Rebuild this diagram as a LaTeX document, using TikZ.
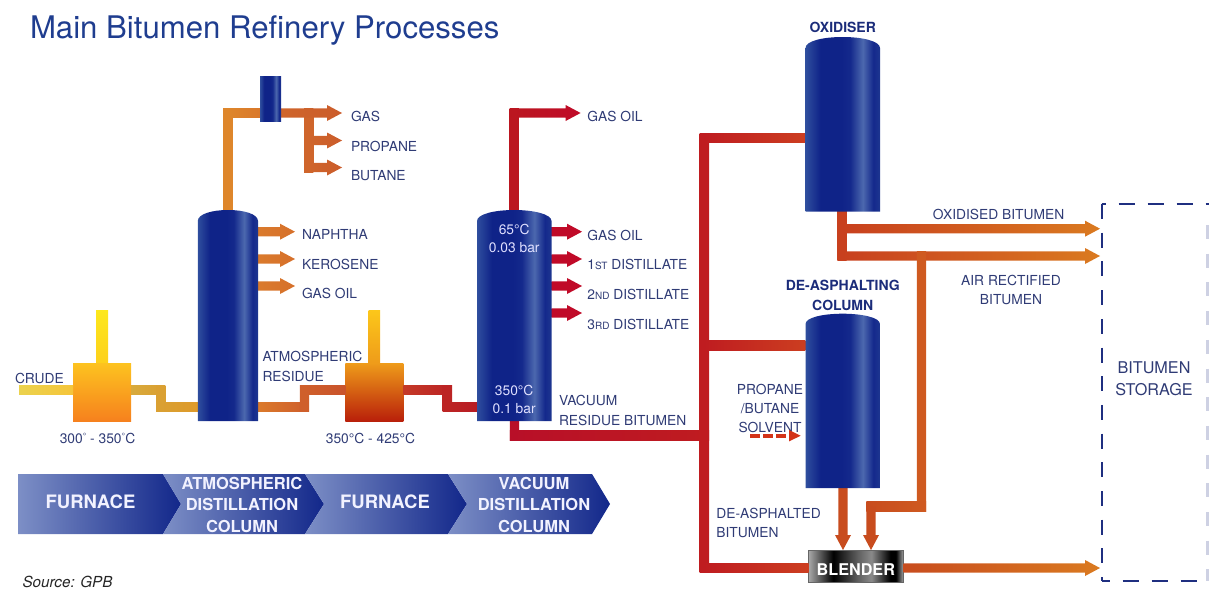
\documentclass[tikz,border=0pt]{standalone}
\usepackage{fontspec}
\setmainfont{TeX Gyre Heros}
\usetikzlibrary{calc,arrows.meta}
\definecolor{lab}{HTML}{2F3B75}
\definecolor{hdr}{HTML}{1B2C7A}
\definecolor{ttl}{HTML}{1F3D8F}
\definecolor{chevL}{HTML}{7D8FC6}
\definecolor{chevR}{HTML}{12278A}
\definecolor{stor}{HTML}{1F2F80}
\definecolor{vesA}{HTML}{2F4E9E}
\definecolor{vesB}{HTML}{0F2388}
\definecolor{vesC}{HTML}{14298C}
\definecolor{vesD}{HTML}{4C68AE}
\definecolor{vesE}{HTML}{1E3690}
\definecolor{blG}{HTML}{A8A8A8}
\definecolor{blM}{HTML}{606060}
\definecolor{blL}{HTML}{8A8A8A}
\definecolor{f1t}{HTML}{FDC21F}\definecolor{f1b}{HTML}{F6801E}
\definecolor{f2t}{HTML}{EE9A1A}\definecolor{f2b}{HTML}{B81E0A}
\definecolor{chA}{HTML}{FDE81C}\definecolor{chB}{HTML}{FDCF1B}
\definecolor{chC}{HTML}{FCC71A}\definecolor{chD}{HTML}{EE9A1A}
\definecolor{crA}{HTML}{EBD24E}\definecolor{crB}{HTML}{F5C53A}
\definecolor{ppA}{HTML}{D8AA3C}\definecolor{ppB}{HTML}{DAA032}\definecolor{ppC}{HTML}{DE9A2A}
\definecolor{ppD}{HTML}{DB7A2B}\definecolor{ppE}{HTML}{CF5F2B}\definecolor{ppF}{HTML}{C9532B}
\definecolor{ppG}{HTML}{C43A28}\definecolor{ppH}{HTML}{BC2424}\definecolor{ppI}{HTML}{B81C24}
\definecolor{taA}{HTML}{DE862B}\definecolor{taB}{HTML}{D9782B}\definecolor{taC}{HTML}{CF652B}\definecolor{taD}{HTML}{CB5C2B}
\definecolor{saA}{HTML}{DA7A2C}\definecolor{saB}{HTML}{D6702B}
\definecolor{rdA}{HTML}{BB1620}\definecolor{rdB}{HTML}{C00A28}\definecolor{rdC}{HTML}{B80F28}
\definecolor{mnA}{HTML}{BF1C20}\definecolor{mnB}{HTML}{CC3E20}
\definecolor{orA}{HTML}{C8401E}\definecolor{orB}{HTML}{DA7A20}\definecolor{orC}{HTML}{CF5A20}\definecolor{orD}{HTML}{C84C1E}
\pgfdeclarehorizontalshading{vessel}{100bp}{
 color(0bp)=(vesA); color(25bp)=(vesA); color(35bp)=(vesB); color(49bp)=(vesB);
 color(55bp)=(vesC); color(63.5bp)=(vesD); color(70.5bp)=(vesC); color(75bp)=(vesE); color(100bp)=(vesE)}
\pgfdeclarehorizontalshading{blendshade}{100bp}{
 color(0bp)=(blG); color(25bp)=(blG); color(38bp)=(black); color(51bp)=(blM);
 color(58bp)=(blL); color(68bp)=(black); color(71bp)=(black); color(75bp)=(blG); color(100bp)=(blG)}
\tikzset{
 every node/.style={inner sep=0pt,outer sep=0pt},
 lbl/.style={font=\fontsize{13.8}{19.5}\selectfont,text=lab,anchor=west,align=left},
 lblc/.style={font=\fontsize{13.8}{19.5}\selectfont,text=lab,align=center},
 hdrlbl/.style={font=\fontsize{14}{20.5}\bfseries\selectfont,text=hdr,align=center},
 inlbl/.style={font=\fontsize{13.8}{17.5}\selectfont,text=white!88!blue,align=center},
 chevtxt/.style={font=\fontsize{16.5}{21.5}\bfseries\selectfont,text=white!95!blue,align=center},
 chevbig/.style={font=\fontsize{18.5}{22}\bfseries\selectfont,text=white!95!blue,align=center},
 furn/.style={minimum width=58pt,minimum height=58pt},
 stdash/.style={draw=stor,line width=1.9pt,dash pattern=on 16pt off 13pt}
}
\newcommand\sm[1]{{\fontsize{10}{10}\selectfont #1}}
\newcommand\smdeg{\raisebox{3.6pt}{\fontsize{9}{9}\selectfont °}}
% horizontal pipe, left to right
\newcommand\pipeH[4]{\path[left color=#3,right color=#4] ($(#1)+(-4.7,-4.7)$) rectangle ($(#2)+(4.7,4.7)$);}
% horizontal pipe ending flush on a vessel
\newcommand\pipeHf[4]{\path[left color=#3,right color=#4] ($(#1)+(0,-4.7)$) rectangle ($(#2)+(0,4.7)$);}
% vertical pipe, top to bottom
\newcommand\pipeV[4]{\path[top color=#3,bottom color=#4] ($(#1)+(-4.7,-4.7)$) rectangle ($(#2)+(4.7,4.7)$);}
% horizontal arrow
\newcommand\flowR[4]{\path[left color=#3,right color=#4] ($(#1)+(0,-4.7)$) -- ($(#2)+(-15,-4.7)$) -- ($(#2)+(-15,-8)$) -- (#2) -- ($(#2)+(-15,8)$) -- ($(#2)+(-15,4.7)$) -- ($(#1)+(0,4.7)$) -- cycle;}
% downward arrow
\newcommand\flowD[3]{\fill[#3] ($(#1)+(-4.7,0)$) -- ($(#2)+(-4.7,-15)$) -- ($(#2)+(-8,-15)$) -- (#2) -- ($(#2)+(8,-15)$) -- ($(#2)+(4.7,-15)$) -- ($(#1)+(4.7,0)$) -- cycle;}
\begin{document}
\begin{tikzpicture}[x=1pt,y=-1pt]
\useasboundingbox (0,0) rectangle (1209,589);
\node[font=\fontsize{31.15}{34}\selectfont,text=ttl,anchor=west] (title) at (30,30) {Main Bitumen Refinery Processes};

% named positions
\coordinate (c1) at (160.7,390);
\coordinate (c1b) at (160.7,406.7);
\coordinate (c2) at (304.5,406.7);
\coordinate (c2b) at (304.5,390);
\coordinate (c3) at (447.3,390);
\coordinate (c3b) at (447.3,406.7);
\coordinate (crudeStart) at (19,390);
\coordinate (topElbow) at (227.7,113);
\coordinate (gasTip) at (342,113);
\coordinate (propTip) at (342,140.5);
\coordinate (butTip) at (342,167.5);
\coordinate (branch) at (308.7,113);
\coordinate (napTip) at (295,231.7);
\coordinate (kerTip) at (295,259);
\coordinate (goTip) at (295,286);
\coordinate (vacElbow) at (514.2,113);
\coordinate (vgoTipTop) at (580.6,113);
\coordinate (vgoTip) at (582,231.7);
\coordinate (d1Tip) at (582,259);
\coordinate (d2Tip) at (582,286);
\coordinate (d3Tip) at (582,313);
\coordinate (vacLow) at (514.5,435.6);
\coordinate (mainTop) at (704.3,137.8);
\coordinate (mainMid) at (704.3,345.5);
\coordinate (mainLow) at (704.3,435.6);
\coordinate (mainBot) at (704.3,568);
\coordinate (oxTipA) at (1100,228.7);
\coordinate (oxTipB) at (1100,256);
\coordinate (oxElbow) at (842,256);
\coordinate (oxOutA) at (842,228.7);
\coordinate (rectElbow) at (921.5,506.5);
\coordinate (rectTop) at (921.5,256);
\coordinate (rectDown) at (871,506.5);
\coordinate (blTipA) at (843,550);
\coordinate (blTipB) at (871,550);
\coordinate (blendOutTip) at (1100,568);
\coordinate (solA) at (750,435.7);
\coordinate (solB) at (801,435.7);

% vessel footprints, named so that pipes can refer to them
\node[minimum width=60pt,minimum height=211pt] (atm) at (228,315.5) {};
\node[minimum width=74.5pt,minimum height=211pt] (vac) at (514.2,315.5) {};
\node[minimum width=74.5pt,minimum height=174.7pt] (oxi) at (842.7,124.3) {};
\node[minimum width=74.5pt,minimum height=174.3pt] (dea) at (842.7,400.8) {};
\node[minimum width=21pt,minimum height=45pt] (top) at (270.5,99.2) {};

% chimneys
\path[top color=chA,bottom color=chB] (96,310) rectangle (108,365);
\path[top color=chC,bottom color=chD] (368.5,310) rectangle (380,365);
% furnaces
\node[furn,top color=f1t,bottom color=f1b] (f1) at (102,392.8) {};
\node[furn,top color=f2t,bottom color=f2b] (f2) at (374.3,392.8) {};
% blender
\node[minimum width=95pt,minimum height=32.5pt,draw=gray!80!black,line width=0.7pt,shading=blendshade] (blender) at (856.1,566.4) {};

% feed train
\pipeHf{crudeStart}{f1.west |- crudeStart}{crA}{crB}
\pipeHf{f1.east |- c1}{c1}{ppA}{ppB}
\pipeV{c1}{c1b}{ppB}{ppB}
\pipeHf{c1b}{atm.west |- c1b}{ppB}{ppC}
\pipeHf{atm.east |- c2}{c2}{ppD}{ppE}
\pipeV{c2b}{c2}{ppE}{ppE}
\pipeHf{c2b}{f2.west |- c2b}{ppE}{ppF}
\pipeHf{f2.east |- c3}{c3}{ppG}{ppH}
\pipeV{c3}{c3b}{ppH}{ppH}
\pipeHf{c3b}{vac.west |- c3b}{ppH}{ppI}

% overhead of atmospheric column
\pipeV{topElbow}{atm.north -| topElbow}{taA}{taA}
\pipeHf{topElbow}{top.west |- topElbow}{taA}{taB}
\pipeV{branch}{branch |- butTip}{taC}{taC}
\flowR{top.east |- gasTip}{gasTip}{taC}{taD}
\flowR{branch |- propTip}{propTip}{taC}{taD}
\flowR{branch |- butTip}{butTip}{taC}{taD}
% side draws
\flowR{atm.east |- napTip}{napTip}{saA}{saB}
\flowR{atm.east |- kerTip}{kerTip}{saA}{saB}
\flowR{atm.east |- goTip}{goTip}{saA}{saB}

% vacuum column
\pipeV{vacElbow}{vac.north -| vacElbow}{rdA}{rdA}
\flowR{vacElbow}{vgoTipTop}{rdA}{rdB}
\flowR{vac.east |- vgoTip}{vgoTip}{rdB}{rdB}
\flowR{vac.east |- d1Tip}{d1Tip}{rdB}{rdB}
\flowR{vac.east |- d2Tip}{d2Tip}{rdB}{rdB}
\flowR{vac.east |- d3Tip}{d3Tip}{rdB}{rdB}
\pipeV{vac.south -| vacLow}{vacLow}{rdC}{rdC}
\pipeH{vacLow}{mainLow}{rdC}{mnA}

% main vacuum residue line
\pipeV{mainTop}{mainBot}{mnA}{mnA}
\pipeHf{mainTop}{oxi.west |- mainTop}{mnA}{mnB}
\pipeHf{mainMid}{dea.west |- mainMid}{mnA}{mnB}
\pipeHf{mainBot}{blender.west |- mainBot}{mnA}{mnB}

% outlets
\pipeV{oxi.south -| oxElbow}{oxElbow}{orA}{orA}
\flowR{oxOutA}{oxTipA}{orA}{orB}
\flowR{oxElbow}{oxTipB}{orA}{orB}
\pipeV{rectTop}{rectElbow}{orC}{orC}
\pipeH{rectDown}{rectElbow}{orD}{orC}
\flowD{rectDown}{blTipB}{orD}
\flowD{dea.south -| blTipA}{blTipA}{orD}
\flowR{blender.east |- blendOutTip}{blendOutTip}{orD}{orB}

% vessels
\path[shading=vessel] (197.8,421) -- (197.8,221) .. controls (197.8,214) and (212,210) .. (228,210) .. controls (244,210) and (258,214) .. (258,221) -- (258,421) -- cycle;
\path[shading=vessel] (477,421) -- (477,221) .. controls (477,214) and (495,210) .. (514.2,210) .. controls (533,210) and (551.5,214) .. (551.5,221) -- (551.5,421) -- cycle;
\path[shading=vessel] (805.5,211.7) -- (805.5,48) .. controls (805.5,41) and (823,37) .. (842.7,37) .. controls (862,37) and (880,41) .. (880,48) -- (880,211.7) -- cycle;
\path[shading=vessel] (805.5,488) -- (805.5,324) .. controls (805.5,317.5) and (823,313.7) .. (842.7,313.7) .. controls (862,313.7) and (880,317.5) .. (880,324) -- (880,488) -- cycle;
\path[shading=vessel] (top.north west) rectangle (top.south east);

% chevrons
\path[left color=chevL,right color=chevR] (18,474) -- (163,474) -- (181,504) -- (163,534) -- (18,534) -- cycle;
\path[left color=chevL,right color=chevR] (163,474) -- (305,474) -- (324,504) -- (305,534) -- (163,534) -- (181,504) -- cycle;
\path[left color=chevL,right color=chevR] (305,474) -- (448,474) -- (467,504) -- (448,534) -- (305,534) -- (324,504) -- cycle;
\path[left color=chevL,right color=chevR] (448,474) -- (592,474) -- (610,504) -- (592,534) -- (448,534) -- (467,504) -- cycle;
\node[chevbig] (ch1) at (90.5,502) {FURNACE};
\node[chevtxt] (ch2) at (242,504.6) {ATMOSPHERIC\\DISTILLATION\\COLUMN};
\node[chevbig] (ch3) at (385,502) {FURNACE};
\node[chevtxt] (ch4) at (534,504.6) {VACUUM\\DISTILLATION\\COLUMN};

% labels
\node[lbl] (lcrude) at (15,378) {CRUDE};
\node[lblc] (lt1) at (97.5,438) {300\smdeg{} - 350\smdeg{}C};
\node[lblc] (lt2) at (370.5,438) {350°C - 425°C};
\node[lbl] (lres) at (262.5,366.3) {ATMOSPHERIC\\RESIDUE};
\node[lbl] (lgas) at (351,116.7) {GAS};
\node[lbl] (lprop) at (351,146) {PROPANE};
\node[lbl] (lbut) at (351,175.7) {BUTANE};
\node[lbl] (lnap) at (302,234) {NAPHTHA};
\node[lbl] (lker) at (302,264) {KEROSENE};
\node[lbl] (lgo) at (302,293) {GAS OIL};
\node[lbl] (lvt) at (587.4,116.7) {GAS OIL};
\node[lbl] (lv0) at (587.4,235) {GAS OIL};
\node[lbl] (lv1) at (587.4,264) {1\sm{ST} DISTILLATE};
\node[lbl] (lv2) at (587.4,294) {2\sm{ND} DISTILLATE};
\node[lbl] (lv3) at (587.4,324) {3\sm{RD} DISTILLATE};
\node[inlbl] (ltop) at (514.2,238.5) {65°C\\0.03 bar};
\node[inlbl] (lbot) at (514.2,399.3) {350°C\\0.1 bar};
\node[lbl] (lvac) at (559,410.5) {VACUUM\\RESIDUE BITUMEN};
\node[hdrlbl] (lox) at (842.7,27) {OXIDISER};
\node[hdrlbl] (ldea) at (842.7,295.3) {DE-ASPHALTING\\COLUMN};
\node[lblc] (loxb) at (998.6,214) {OXIDISED BITUMEN};
\node[lblc] (lair) at (1011,290) {AIR RECTIFIED\\BITUMEN};
\node[lblc,font=\fontsize{13.8}{19}\selectfont] (lsol) at (770,408) {PROPANE\\/BUTANE\\SOLVENT};
\node[lbl] (ldab) at (716.4,523) {DE-ASPHALTED\\BITUMEN};
\node[font=\fontsize{16.2}{18}\bfseries\selectfont,text=white] (lbl) at (855.8,570) {BLENDER};
\node[font=\fontsize{16.2}{21.6}\selectfont,text=lab,align=center] (lsto) at (1154,378.5) {BITUMEN\\STORAGE};
\node[font=\fontsize{15.2}{16}\itshape\selectfont,text=black!85,anchor=west] (lsrc) at (22.5,581.5) {Source: GPB};

% solvent
\draw[line width=3.8pt,color=orA!80!red,dash pattern=on 10pt off 3pt,-{Triangle[length=12pt,width=10.5pt]}] (solA) -- (solB);

% storage outline
\coordinate (stTL) at (1101.7,204);
\coordinate (stBL) at (1101.7,580.7);
\coordinate (stTR) at (1209,204);
\coordinate (stBR) at (1209,580.7);
\coordinate (stRS) at (1207.5,225);
\coordinate (stRE) at (1207.5,580.7);
\draw[stdash,dash pattern=on 15pt off 13.7pt] (stTL) -- (stBL);
\draw[stdash,dash phase=12pt] (stTL) -- (stTR);
\draw[stdash,dash phase=8pt] (stBL) -- (stBR);
\draw[draw=stor!22,line width=3pt,dash pattern=on 14pt off 14.7pt] (stRS) -- (stRE);
\end{tikzpicture}
\end{document}
